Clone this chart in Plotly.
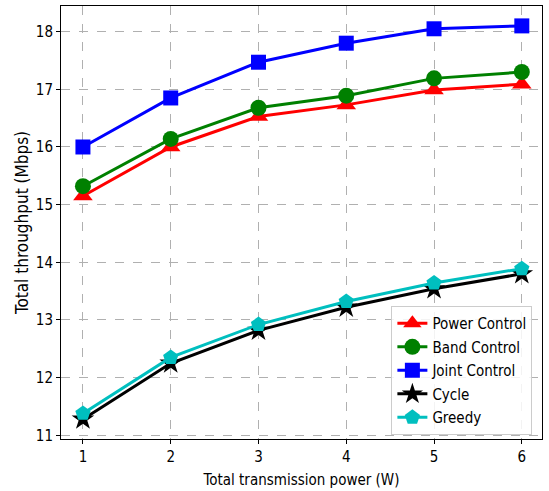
import plotly.graph_objects as go

power = [1, 2, 3, 4, 5, 6]
power_control = [15.15, 16.00, 16.53, 16.73, 16.99, 17.09]
band_control = [15.32, 16.14, 16.68, 16.89, 17.19, 17.30]
joint_control = [16.00, 16.85, 17.47, 17.80, 18.05, 18.10]
cycle = [11.28, 12.25, 12.82, 13.22, 13.54, 13.80]
greedy = [11.38, 12.35, 12.92, 13.32, 13.64, 13.89]
y_ticks = [11, 12, 13, 14, 15, 16, 17, 18]

series = [
    ("Power Control", power_control, "#ff0000", "triangle-up", 17),
    ("Band Control", band_control, "#008000", "circle", 16),
    ("Joint Control", joint_control, "#0000ff", "square", 15),
    ("Cycle", cycle, "#000000", "star", 17),
    ("Greedy", greedy, "#00bfbf", "pentagon", 16),
]

FONT = "DejaVu Sans Condensed, Liberation Sans Narrow, DejaVu Sans"

fig = go.Figure()
for name, vals, color, sym, size in series:
    fig.add_trace(go.Scatter(
        x=power, y=vals, name=name, mode="lines+markers", legendgroup=name,
        line=dict(color=color, width=3),
        marker=dict(symbol=sym, size=size, color=color, line=dict(width=0)),
    ))

axis_common = dict(
    showline=True, linecolor="black", linewidth=1, mirror=True,
    showgrid=True, gridcolor="#b0b0b0", griddash="dash", gridwidth=1,
    ticks="outside", ticklen=4, tickcolor="black", zeroline=False,
    automargin=False,
    tickfont=dict(family=FONT, size=15, color="black"),
)

fig.update_layout(
    width=549, height=491,
    margin=dict(l=61, r=7, t=6, b=52),
    paper_bgcolor="white", plot_bgcolor="white",
    font=dict(family=FONT, size=14, color="black"),
    xaxis=dict(range=[0.75, 6.23], tickvals=power, **axis_common,
               title=dict(text="Total transmission power (W)", font=dict(size=15), standoff=9)),
    yaxis=dict(range=[10.936, 18.445], tickvals=y_ticks, **axis_common,
               title=dict(text="Total throughput (Mbps)", font=dict(size=17), standoff=2)),
    legend=dict(x=0.98, y=0.009, xanchor="right", yanchor="bottom",
                bgcolor="rgba(255,255,255,0.85)", bordercolor="#cccccc", borderwidth=1,
                font=dict(size=15), tracegroupgap=1, itemwidth=30),
)

fig.write_html("out.html", config={"displayModeBar": False},
               post_script="document.body.style.margin='0';")
